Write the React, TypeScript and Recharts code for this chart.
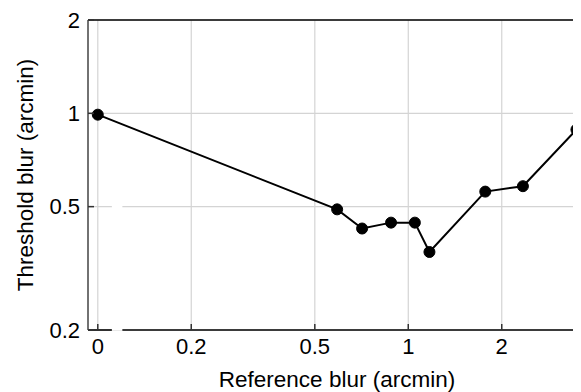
import React from 'react';
import {
  LineChart,
  Line,
  XAxis,
  YAxis,
  CartesianGrid,
  ReferenceLine,
  ReferenceArea,
} from 'recharts';

// Reference blur (arcmin) and the measured threshold blur (arcmin)
const referenceBlur = [0, 0.59, 0.71, 0.88, 1.05, 1.17, 1.77, 2.34, 3.48];
const thresholdBlur = [0.99, 0.49, 0.425, 0.444, 0.444, 0.357, 0.559, 0.582, 0.886];

const xTickValues = [0.1, 0.2, 0.5, 1, 2];
const xTickLabels = ['0', '0.2', '0.5', '1', '2'];
const yTickValues = [0.2, 0.5, 1, 2];
const yTickLabels = ['0.2', '0.5', '1', '2'];

// On the log axis, zero is shown at this position, left of an axis break
const ZERO_POSITION = 0.1;
const X_DOMAIN: [number, number] = [0.093, 3.6];
const Y_DOMAIN: [number, number] = [0.2, 2];
const AXIS_BREAK: [number, number] = [0.111, 0.12];

const chartData = referenceBlur.map((x, i) => ({
  x: x === 0 ? ZERO_POSITION : x,
  y: thresholdBlur[i],
}));

const FONT = 'Liberation Sans, Arial, Helvetica, sans-serif';
const TICK_FONT_SIZE = 22;
const LABEL_FONT_SIZE = 22.5;

const XTick = (props: any) => {
  const { x, y, payload } = props;
  const idx = xTickValues.indexOf(payload.value);
  return (
    <g>
      <line x1={x} x2={x} y1={y} y2={y - 6} stroke="#333" strokeWidth={1.5} />
      <text
        x={x}
        y={y + 8}
        dy="0.71em"
        textAnchor="middle"
        fontFamily={FONT}
        fontSize={TICK_FONT_SIZE}
        fill="#000"
      >
        {idx >= 0 ? xTickLabels[idx] : payload.value}
      </text>
    </g>
  );
};

const YTick = (props: any) => {
  const { x, y, payload } = props;
  const idx = yTickValues.indexOf(payload.value);
  return (
    <g>
      <line x1={x} x2={x + 6} y1={y} y2={y} stroke="#333" strokeWidth={1.5} />
      <text
        x={x - 8}
        y={y}
        dy="0.355em"
        textAnchor="end"
        fontFamily={FONT}
        fontSize={TICK_FONT_SIZE}
        fill="#000"
      >
        {idx >= 0 ? yTickLabels[idx] : payload.value}
      </text>
    </g>
  );
};

const XLabel = () => (
  <text
    x={329}
    y={371}
    dy="0.355em"
    textAnchor="middle"
    fontFamily={FONT}
    fontSize={LABEL_FONT_SIZE}
    fill="#000"
  >
    Reference blur (arcmin)
  </text>
);

const YLabel = () => (
  <text
    x={0}
    y={0}
    dy="0.355em"
    transform="translate(17 167) rotate(-90)"
    textAnchor="middle"
    fontFamily={FONT}
    fontSize={LABEL_FONT_SIZE}
    fill="#000"
  >
    Threshold blur (arcmin)
  </text>
);

export default function App() {
  return (
    <LineChart
      width={573}
      height={384}
      data={chartData}
      margin={{ top: 12, right: 0, bottom: 0, left: 0 }}
    >
      <CartesianGrid stroke="#d4d4d4" strokeWidth={1.2} />
      <XAxis
        dataKey="x"
        type="number"
        scale="log"
        domain={X_DOMAIN}
        allowDataOverflow
        ticks={xTickValues}
        interval={0}
        height={62}
        axisLine={false}
        tickLine={false}
        tickSize={0}
        tickMargin={0}
        tick={<XTick />}
        label={<XLabel />}
      />
      <YAxis
        dataKey="y"
        type="number"
        scale="log"
        domain={Y_DOMAIN}
        allowDataOverflow
        ticks={yTickValues}
        interval={0}
        width={80}
        axisLine={{ stroke: '#555', strokeWidth: 1.6 }}
        tickLine={false}
        tickSize={0}
        tickMargin={0}
        tick={<YTick />}
        label={<YLabel />}
      />
      <ReferenceArea
        x1={AXIS_BREAK[0]}
        x2={AXIS_BREAK[1]}
        y1={0.2}
        y2={0.7}
        fill="#fff"
        fillOpacity={1}
        stroke="none"
      />
      <ReferenceLine
        segment={[
          { x: X_DOMAIN[0], y: Y_DOMAIN[0] },
          { x: AXIS_BREAK[0], y: Y_DOMAIN[0] },
        ]}
        stroke="#000"
        strokeWidth={1.6}
      />
      <ReferenceLine
        segment={[
          { x: AXIS_BREAK[1], y: Y_DOMAIN[0] },
          { x: X_DOMAIN[1], y: Y_DOMAIN[0] },
        ]}
        stroke="#000"
        strokeWidth={1.6}
      />
      <ReferenceLine y={Y_DOMAIN[1]} stroke="#000" strokeWidth={1.6} />
      <Line
        dataKey="y"
        stroke="#000"
        strokeWidth={2}
        dot={{ r: 5.5, fill: '#000', stroke: '#000', strokeWidth: 1 }}
        activeDot={false}
        isAnimationActive={false}
      />
    </LineChart>
  );
}
